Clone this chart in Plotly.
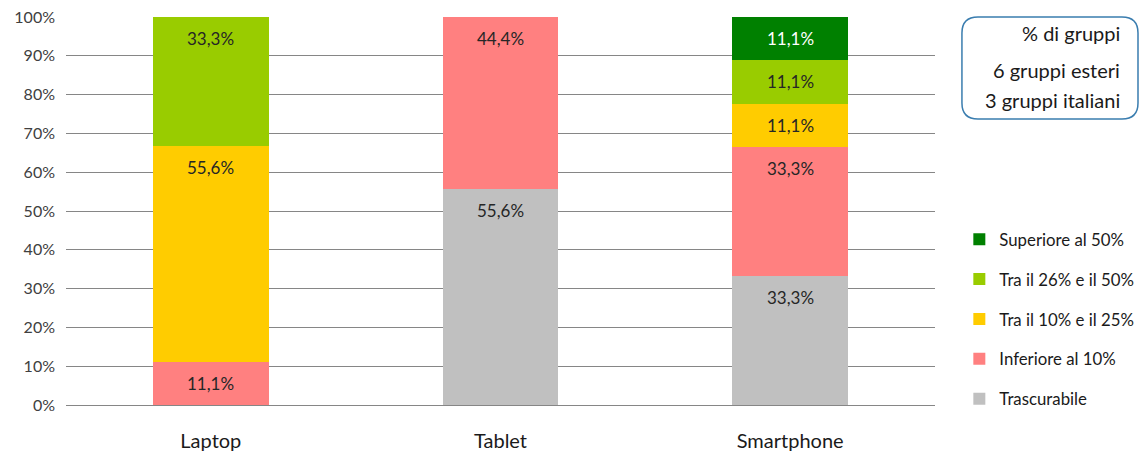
import plotly.graph_objects as go

categories = ["Laptop", "Tablet", "Smartphone"]
series_names = ["Trascurabile", "Inferiore al 10%", "Tra il 10% e il 25%", "Tra il 26% e il 50%", "Superiore al 50%"]
trascurabile = [0, 55.6, 33.3]
inferiore_10 = [11.1, 44.4, 33.3]
tra_10_25 = [55.6, 0, 11.1]
tra_26_50 = [33.3, 0, 11.1]
superiore_50 = [0, 0, 11.1]
series_values = [trascurabile, inferiore_10, tra_10_25, tra_26_50, superiore_50]
colors = ["#C0C0C0", "#FF8080", "#FFCC00", "#99CC00", "#008000"]
label_colors = ["#262626", "#262626", "#262626", "#262626", "#FFFFFF"]
y_ticks = [0, 10, 20, 30, 40, 50, 60, 70, 80, 90, 100]
y_tick_labels = [f"{v}%" for v in y_ticks]
box_lines = ["% di gruppi", "6 gruppi esteri", "3 gruppi italiani"]

FONT = "Lato, Liberation Sans, sans-serif"

fig = go.Figure()
n = len(series_names)
for i, (name, vals) in enumerate(zip(series_names, series_values)):
    fig.add_trace(go.Bar(
        x=categories, y=vals, name=name, marker=dict(color=colors[i], line=dict(width=0)),
        width=0.4, legendgroup=name, legendrank=n - i, hoverinfo="skip",
    ))

annotations = []
cum = [0.0] * len(categories)
for i, vals in enumerate(series_values):
    for j, v in enumerate(vals):
        top = cum[j] + v
        if v > 0:
            annotations.append(dict(
                x=categories[j], y=top, xref="x", yref="y", yanchor="top",
                text=f"{v:.1f}".replace(".", ",") + "%", showarrow=False, yshift=-9,
                font=dict(family=FONT, size=17, color=label_colors[i]),
            ))
        cum[j] = top

# text box
box_y = [0.959, 0.864, 0.786]
for t, yy in zip(box_lines, box_y):
    annotations.append(dict(
        x=1.2152, y=yy, xref="paper", yref="paper", xanchor="right", yanchor="middle",
        text=t, showarrow=False, font=dict(family=FONT, size=20, color="#1a1a1a"),
    ))

x0, x1, y0, y1 = 1.031, 1.2336, 0.737, 1.0
rx, ry = 16 / 869, 16 / 388
path = (f"M{x0+rx},{y1} L{x1-rx},{y1} Q{x1},{y1} {x1},{y1-ry} "
        f"L{x1},{y0+ry} Q{x1},{y0} {x1-rx},{y0} L{x0+rx},{y0} "
        f"Q{x0},{y0} {x0},{y0+ry} L{x0},{y1-ry} Q{x0},{y1} {x0+rx},{y1} Z")

fig.update_layout(
    width=1148, height=452,
    margin=dict(l=66, r=213, t=17, b=47, autoexpand=False),
    barmode="stack",
    paper_bgcolor="white", plot_bgcolor="white",
    font=dict(family=FONT, size=16, color="#404040"),
    annotations=annotations,
    shapes=[dict(type="path", path=path, xref="paper", yref="paper",
                 line=dict(color="#3A7DAF", width=1.5), fillcolor="rgba(0,0,0,0)")],
    legend=dict(
        x=1.028, y=0.472, xanchor="left", yanchor="top",
        traceorder="grouped", tracegroupgap=15,
        font=dict(family=FONT, size=16.8, color="#1a1a1a"),
        bgcolor="rgba(0,0,0,0)",
    ),
    xaxis=dict(
        showgrid=False, showline=True, linecolor="#868686", linewidth=1,
        ticks="", ticklabelstandoff=18, tickfont=dict(size=20, color="#1a1a1a"),
    ),
    yaxis=dict(
        range=[0, 100], tickvals=y_ticks, ticktext=y_tick_labels, showgrid=True,
        gridcolor="#868686", gridwidth=1, zeroline=False, showline=False,
        ticks="", ticklabelstandoff=10, tickfont=dict(size=16, color="#404040"),
    ),
)

fig.write_html("out.html", config={"displayModeBar": False},
               post_script="document.body.style.margin='0';")
